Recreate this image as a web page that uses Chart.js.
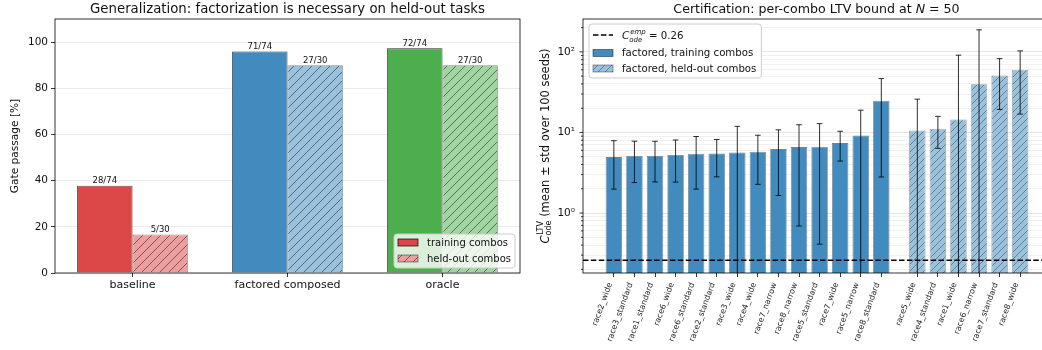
<!DOCTYPE html>
<html>
<head>
<meta charset="utf-8">
<script src="https://cdn.jsdelivr.net/npm/chart.js@4/dist/chart.umd.min.js"></script>
<style>
  html, body { margin: 0; padding: 0; width: 1042px; height: 350px; overflow: hidden; background: #fff; }
  #left  { position: absolute; left: 0;     top: 0; }
  #right { position: absolute; left: 530px; top: 0; }
</style>
</head>
<body>
<canvas id="left" width="530" height="350"></canvas>
<canvas id="right" width="530" height="350"></canvas>
<script>
// ---------- left panel: gate passage per method ----------
const methods = ['baseline', 'factored composed', 'oracle'];
const trainingPassed = [28, 71, 72];
const trainingTotal = 74;
const heldoutPassed = [5, 27, 27];
const heldoutTotal = 30;
const passageTicks = [0, 20, 40, 60, 80, 100];

// ---------- right panel: per-combo LTV bound (mean, std over 100 seeds) ----------
const trainingCombos = ['race2_wide', 'race3_standard', 'race1_standard', 'race6_wide', 'race6_standard',
  'race2_standard', 'race3_wide', 'race4_wide', 'race7_narrow', 'race8_narrow', 'race5_standard',
  'race7_wide', 'race5_narrow', 'race8_standard'];
const trainingMean = [4.94, 5.09, 5.10, 5.24, 5.44, 5.49, 5.65, 5.75, 6.21, 6.58, 6.64, 7.38, 9.19, 24.7];
const trainingStd  = [2.96, 2.70, 2.67, 2.82, 3.46, 2.68, 6.25, 3.48, 4.56, 5.89, 6.23, 2.97, 9.71, 21.9];
const heldoutCombos = ['race5_wide', 'race4_standard', 'race1_wide', 'race6_narrow', 'race7_standard', 'race8_wide'];
const heldoutMean = [10.6, 11.1, 14.5, 39.7, 50.9, 59.9];
const heldoutStd  = [15.3, 4.75, 76.5, 148, 31.6, 43.0];
const empiricalC = 0.26;
const ltvMajorTicks = [1, 10, 100];
const ltvTickLabels = ['10\u2070', '10\u00b9', '10\u00b2'];

const FONT = "'DejaVu Sans', sans-serif";
Chart.defaults.font.family = FONT;
Chart.defaults.color = '#111';
Chart.defaults.animation = false;

// ---------- drawing helpers ----------
function hatch(ctx, bg, line, step, lw) {
  const c = document.createElement('canvas');
  c.width = step; c.height = step;
  const g = c.getContext('2d');
  g.fillStyle = bg; g.fillRect(0, 0, step, step);
  g.strokeStyle = line; g.lineWidth = lw;
  g.beginPath();
  g.moveTo(-1, step + 1); g.lineTo(step + 1, -1);
  g.moveTo(-1, 1); g.lineTo(1, -1);
  g.moveTo(step - 1, step + 1); g.lineTo(step + 1, step - 1);
  g.stroke();
  return ctx.createPattern(c, 'repeat');
}

function roundRect(ctx, x, y, w, h, r) {
  ctx.beginPath();
  ctx.moveTo(x + r, y);
  ctx.arcTo(x + w, y, x + w, y + h, r);
  ctx.arcTo(x + w, y + h, x, y + h, r);
  ctx.arcTo(x, y + h, x, y, r);
  ctx.arcTo(x, y, x + w, y, r);
  ctx.closePath();
}

// text made of runs; a run with `stack` puts superscript and subscript above each other
function runsWidth(ctx, runs) {
  let w = 0;
  for (const r of runs) {
    const parts = r.stack || [r];
    w += Math.max(...parts.map(p => { ctx.font = p.f; return ctx.measureText(p.t).width + (p.dx || 0); }));
  }
  return w;
}
function drawRuns(ctx, runs, x, y) {
  ctx.textAlign = 'left';
  ctx.textBaseline = 'alphabetic';
  for (const r of runs) {
    const parts = r.stack || [r];
    let w = 0;
    for (const p of parts) {
      ctx.font = p.f;
      ctx.fillText(p.t, x + (p.dx || 0), y + (p.dy || 0));
      w = Math.max(w, ctx.measureText(p.t).width + (p.dx || 0));
    }
    x += w;
  }
}

function drawFrame(ctx, a) {
  ctx.save();
  ctx.strokeStyle = '#000';
  ctx.lineWidth = 0.8;
  ctx.strokeRect(a.left, a.top, a.right - a.left, a.bottom - a.top);
  ctx.restore();
}

function drawLegendBox(ctx, x, y, w, h) {
  ctx.save();
  roundRect(ctx, x, y, w, h, 3);
  ctx.fillStyle = 'rgba(255,255,255,0.8)';
  ctx.fill();
  ctx.strokeStyle = '#cccccc';
  ctx.lineWidth = 1;
  ctx.stroke();
  ctx.restore();
}

function drawSwatch(ctx, x, yc, fill, edge) {
  ctx.save();
  ctx.fillStyle = fill;
  ctx.fillRect(x, yc - 3.5, 20, 7);
  ctx.strokeStyle = edge;
  ctx.lineWidth = 0.8;
  ctx.strokeRect(x, yc - 3.5, 20, 7);
  ctx.restore();
}

// ================= left panel =================
const leftCanvas = document.getElementById('left');
const lctx = leftCanvas.getContext('2d');
const trainFill = ['rgb(220,71,72)', 'rgb(65,139,191)', 'rgb(76,174,76)'];
const heldBg = ['rgb(237,158,158)', 'rgb(154,194,221)', 'rgb(160,212,160)'];
const heldFill = heldBg.map(c => hatch(lctx, c, 'rgba(0,0,0,0.5)', 9, 0.9));

const leftPanel = {
  id: 'leftPanel',
  afterDatasetsDraw(chart) {
    const ctx = chart.ctx;
    ctx.save();
    ctx.font = `8.5px ${FONT}`;
    ctx.fillStyle = '#111';
    ctx.textAlign = 'center';
    ctx.textBaseline = 'alphabetic';
    chart.data.datasets.forEach((ds, di) => {
      chart.getDatasetMeta(di).data.forEach((bar, i) => {
        ctx.fillText(`${ds.passed[i]}/${ds.total}`, bar.x, bar.y - 2.5);
      });
    });
    ctx.restore();
    drawFrame(ctx, chart.chartArea);
  },
  afterDraw(chart) {
    const ctx = chart.ctx, a = chart.chartArea;
    ctx.save();
    ctx.fillStyle = '#111';
    // title
    ctx.font = `13.3px ${FONT}`;
    ctx.textAlign = 'center';
    ctx.textBaseline = 'alphabetic';
    ctx.fillText('Generalization: factorization is necessary on held-out tasks', (a.left + a.right) / 2, 13);
    // y-axis title
    ctx.save();
    ctx.translate(18, (a.top + a.bottom) / 2);
    ctx.rotate(-Math.PI / 2);
    ctx.font = `10.6px ${FONT}`;
    ctx.fillText('Gate passage [%]', 0, 0);
    ctx.restore();
    // legend (lower right)
    ctx.font = `10px ${FONT}`;
    const labels = chart.data.datasets.map(d => d.label);
    const tw = Math.max(...labels.map(t => ctx.measureText(t).width));
    const w = 4 + 20 + 9 + tw + 4, h = 34;
    const x = a.right - 5 - w, y = a.bottom - 5 - h;
    drawLegendBox(ctx, x, y, w, h);
    const rows = [y + 8.5, y + 24.5];
    drawSwatch(ctx, x + 4, rows[0], trainFill[0], 'rgba(0,0,0,0.85)');
    drawSwatch(ctx, x + 4, rows[1], heldFill[0], 'rgba(0,0,0,0.5)');
    ctx.fillStyle = '#111';
    ctx.textAlign = 'left';
    ctx.textBaseline = 'middle';
    labels.forEach((t, i) => ctx.fillText(t, x + 33, rows[i] + 0.5));
    ctx.restore();
  }
};

new Chart(leftCanvas, {
  type: 'bar',
  data: {
    labels: methods,
    datasets: [
      {
        label: 'training combos',
        data: trainingPassed.map(p => p / trainingTotal * 100),
        passed: trainingPassed, total: trainingTotal,
        backgroundColor: trainFill,
        borderColor: 'rgba(0,0,0,0.85)', borderWidth: 0.8
      },
      {
        label: 'held-out combos',
        data: heldoutPassed.map(p => p / heldoutTotal * 100),
        passed: heldoutPassed, total: heldoutTotal,
        backgroundColor: heldFill,
        borderColor: 'rgba(0,0,0,0.45)', borderWidth: 0.8
      }
    ]
  },
  options: {
    responsive: false,
    devicePixelRatio: 1,
    categoryPercentage: 0.715,
    barPercentage: 1.0,
    layout: { padding: { top: 19, right: 10, left: 0, bottom: 0 } },
    plugins: { legend: { display: false }, tooltip: { enabled: false } },
    scales: {
      x: {
        offset: true,
        grid: { offset: false, drawOnChartArea: false, drawTicks: true, tickLength: 4, tickColor: '#000', tickWidth: 0.8 },
        border: { display: false },
        ticks: { font: { size: 11 }, padding: 2, color: '#111' },
        afterFit: s => { s.height = 77; }
      },
      y: {
        min: 0, max: 110,
        afterBuildTicks: s => { s.ticks = passageTicks.map(v => ({ value: v })); },
        grid: { color: 'rgba(0,0,0,0.1)', lineWidth: 0.8, tickLength: 4, tickColor: '#000', tickWidth: 0.8 },
        border: { display: false },
        ticks: { font: { size: 10.5 }, padding: 3, color: '#111' },
        afterFit: s => { s.width = 55; }
      }
    }
  },
  plugins: [leftPanel]
});

// ================= right panel =================
const rightCanvas = document.getElementById('right');
const rctx = rightCanvas.getContext('2d');
const heldGap = 0.75;
const comboNames = trainingCombos.concat(heldoutCombos);
const comboPos = trainingCombos.map((_, i) => i)
  .concat(heldoutCombos.map((_, j) => trainingCombos.length + heldGap + j));
const comboMean = trainingMean.concat(heldoutMean);
const comboStd = trainingStd.concat(heldoutStd);
const isHeld = comboNames.map((_, i) => i >= trainingCombos.length);

const blueFill = 'rgb(65,139,191)';
const blueHeld = hatch(rctx, 'rgb(154,194,221)', 'rgba(0,0,0,0.42)', 7, 0.8);

const minorLtv = [];
[0.1, 1, 10, 100].forEach(d => { for (let k = 1; k <= 9; k++) minorLtv.push(+(k * d).toPrecision(3)); });

const rightPanel = {
  id: 'rightPanel',
  afterDatasetsDraw(chart) {
    const ctx = chart.ctx, a = chart.chartArea;
    const ys = chart.scales.y, xs = chart.scales.x;
    const meta = chart.getDatasetMeta(0);
    ctx.save();
    ctx.beginPath();
    ctx.rect(a.left, a.top, a.right - a.left, a.bottom - a.top);
    ctx.clip();
    // error bars
    ctx.strokeStyle = 'rgba(0,0,0,0.82)';
    ctx.lineWidth = 1;
    meta.data.forEach((bar, i) => {
      const m = comboMean[i], s = comboStd[i];
      const top = ys.getPixelForValue(m + s);
      const low = m - s;
      const bot = low > 0 ? ys.getPixelForValue(low) : a.bottom + 2;
      ctx.beginPath();
      ctx.moveTo(bar.x, top); ctx.lineTo(bar.x, bot);
      ctx.moveTo(bar.x - 2.8, top); ctx.lineTo(bar.x + 2.8, top);
      if (low > 0) { ctx.moveTo(bar.x - 2.8, bot); ctx.lineTo(bar.x + 2.8, bot); }
      ctx.stroke();
    });
    // empirical constant
    const yc = ys.getPixelForValue(empiricalC);
    ctx.setLineDash([5.5, 2.4]);
    ctx.lineWidth = 1.5;
    ctx.strokeStyle = '#000';
    ctx.beginPath();
    ctx.moveTo(a.left, yc); ctx.lineTo(a.right, yc);
    ctx.stroke();
    ctx.restore();
    // y tick marks (major longer than minor)
    ctx.save();
    ctx.strokeStyle = '#000';
    ctx.lineWidth = 0.8;
    ctx.beginPath();
    minorLtv.forEach(v => {
      if (v < ys.min || v > ys.max) return;
      const y = ys.getPixelForValue(v);
      const len = ltvMajorTicks.includes(v) ? 3.5 : 2;
      ctx.moveTo(a.left - len, y); ctx.lineTo(a.left, y);
    });
    ctx.stroke();
    ctx.restore();
    // rotated combo names, right end hanging just left of each tick
    ctx.save();
    ctx.fillStyle = '#222';
    ctx.font = `8px ${FONT}`;
    ctx.textAlign = 'right';
    ctx.textBaseline = 'middle';
    comboPos.forEach((v, i) => {
      const x = xs.getPixelForValue(v);
      ctx.save();
      ctx.translate(x - 3.6, a.bottom + 10);
      ctx.rotate(-70 * Math.PI / 180);
      ctx.fillText(comboNames[i], 0, 0);
      ctx.restore();
    });
    ctx.restore();
    drawFrame(ctx, a);
  },
  afterDraw(chart) {
    const ctx = chart.ctx, a = chart.chartArea;
    ctx.save();
    ctx.fillStyle = '#111';
    // title
    const title = [
      { t: 'Certification: per-combo LTV bound at ', f: `12.6px ${FONT}` },
      { t: 'N', f: `italic 12.6px ${FONT}` },
      { t: ' = 50', f: `12.6px ${FONT}` }
    ];
    drawRuns(ctx, title, (a.left + a.right) / 2 - runsWidth(ctx, title) / 2, 13);
    // y-axis title
    const ylab = [
      { t: 'C', f: `italic 11.5px ${FONT}` },
      { stack: [{ t: 'LTV', f: `8px ${FONT}`, dy: -5.2, dx: 0.6 }, { t: 'ode', f: `8px ${FONT}`, dy: 2.8 }] },
      { t: ' (mean \u00b1 std over 100 seeds)', f: `11.5px ${FONT}` }
    ];
    ctx.save();
    ctx.translate(18.5, (a.top + a.bottom) / 2);
    ctx.rotate(-Math.PI / 2);
    drawRuns(ctx, ylab, -runsWidth(ctx, ylab) / 2, 0);
    ctx.restore();
    // legend (upper left)
    ctx.font = `10.2px ${FONT}`;
    const labels = ['factored, training combos', 'factored, held-out combos'];
    const tw = Math.max(...labels.map(t => ctx.measureText(t).width));
    const x = a.left + 6, y = a.top + 5, w = 4 + 20 + 9 + tw + 5, h = 54;
    drawLegendBox(ctx, x, y, w, h);
    const rows = [y + 11, y + 29, y + 44.5];
    ctx.save();
    ctx.strokeStyle = '#000';
    ctx.lineWidth = 1.5;
    ctx.setLineDash([5.5, 2.4]);
    ctx.beginPath();
    ctx.moveTo(x + 4, rows[0]); ctx.lineTo(x + 24, rows[0]);
    ctx.stroke();
    ctx.restore();
    drawSwatch(ctx, x + 4, rows[1], blueFill, 'rgba(0,0,0,0.55)');
    drawSwatch(ctx, x + 4, rows[2], blueHeld, 'rgba(0,0,0,0.45)');
    ctx.fillStyle = '#111';
    const cLabel = [
      { t: 'C', f: `italic 10.5px ${FONT}` },
      { stack: [{ t: 'emp', f: `italic 7px ${FONT}`, dy: -5, dx: 0.8 }, { t: 'ode', f: `italic 7px ${FONT}`, dy: 2.5 }] },
      { t: ` = ${empiricalC}`, f: `10.2px ${FONT}` }
    ];
    drawRuns(ctx, cLabel, x + 33, rows[0] + 4);
    ctx.font = `10.2px ${FONT}`;
    ctx.textAlign = 'left';
    ctx.textBaseline = 'middle';
    ctx.fillText(labels[0], x + 33, rows[1] + 0.5);
    ctx.fillText(labels[1], x + 33, rows[2] + 0.5);
    ctx.restore();
  }
};

new Chart(rightCanvas, {
  type: 'bar',
  data: {
    datasets: [{
      label: 'LTV bound',
      data: comboPos.map((x, i) => ({ x, y: comboMean[i] })),
      backgroundColor: isHeld.map(h => h ? blueHeld : blueFill),
      borderColor: isHeld.map(h => h ? 'rgba(0,0,0,0.4)' : 'rgba(0,0,0,0.5)'),
      borderWidth: 0.8
    }]
  },
  options: {
    responsive: false,
    devicePixelRatio: 1,
    categoryPercentage: 0.8,
    barPercentage: 1.0,
    layout: { padding: { top: 19, right: 10, left: 0, bottom: 0 } },
    plugins: { legend: { display: false }, tooltip: { enabled: false } },
    scales: {
      x: {
        type: 'linear',
        min: -1.5, max: 21.2,
        offset: false,
        afterBuildTicks: s => { s.ticks = comboPos.map(v => ({ value: v })); },
        grid: { offset: false, drawOnChartArea: false, drawTicks: true, tickLength: 4, tickColor: '#000', tickWidth: 0.8 },
        border: { display: false },
        ticks: { display: false },
        afterFit: s => { s.height = 77; }
      },
      y: {
        type: 'logarithmic',
        min: 0.18, max: 256,
        afterBuildTicks: s => { s.ticks = minorLtv.filter(v => v >= 0.18 && v <= 256).map(v => ({ value: v })); },
        grid: {
          drawTicks: false,
          lineWidth: 0.8,
          color: c => (c.tick && ltvMajorTicks.includes(c.tick.value)) ? 'rgba(0,0,0,0.13)' : 'rgba(0,0,0,0.07)'
        },
        border: { display: false },
        ticks: {
          autoSkip: false, font: { size: 10.5 }, padding: 8, color: '#111',
          callback: v => { const k = ltvMajorTicks.indexOf(v); return k >= 0 ? ltvTickLabels[k] : ''; }
        },
        afterFit: s => { s.width = 53; }
      }
    }
  },
  plugins: [rightPanel]
});
</script>
</body>
</html>
